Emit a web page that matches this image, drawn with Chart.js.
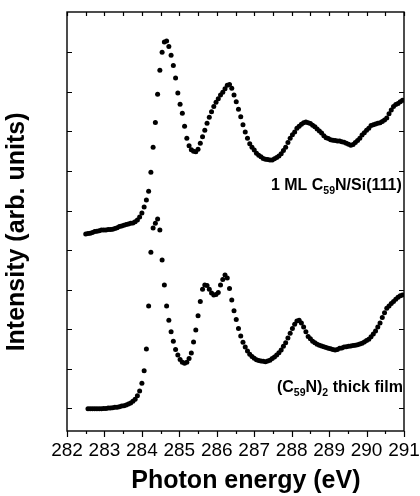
<!DOCTYPE html>
<html>
<head>
<meta charset="utf-8">
<script src="https://cdn.jsdelivr.net/npm/chart.js@4/dist/chart.umd.min.js"></script>
<style>
  html, body { margin: 0; padding: 0; background: #fff; }
  canvas { display: block; }
</style>
</head>
<body>
<canvas id="c" width="420" height="496"></canvas>
<script>
// Photon energy grid (eV)
const energy = [
  282.50,282.56,282.62,282.68,282.74,282.80,282.86,282.92,282.98,283.04,
  283.10,283.16,283.22,283.28,283.34,283.40,283.46,283.52,283.58,283.64,
  283.70,283.76,283.82,283.88,283.94,284.00,284.06,284.12,284.18,284.24,
  284.30,284.36,284.42,284.48,284.54,284.60,284.66,284.72,284.78,284.84,
  284.90,284.96,285.02,285.08,285.14,285.20,285.26,285.32,285.38,285.44,
  285.50,285.56,285.62,285.68,285.74,285.80,285.86,285.92,285.98,286.04,
  286.10,286.16,286.22,286.28,286.34,286.40,286.46,286.52,286.58,286.64,
  286.70,286.76,286.82,286.88,286.94,287.00,287.06,287.12,287.18,287.24,
  287.30,287.36,287.42,287.48,287.54,287.60,287.66,287.72,287.78,287.84,
  287.90,287.96,288.02,288.08,288.14,288.20,288.26,288.32,288.38,288.44,
  288.50,288.56,288.62,288.68,288.74,288.80,288.86,288.92,288.98,289.04,
  289.10,289.16,289.22,289.28,289.34,289.40,289.46,289.52,289.58,289.64,
  289.70,289.76,289.82,289.88,289.94,290.00,290.06,290.12,290.18,290.24,
  290.30,290.36,290.42,290.48,290.54,290.60,290.66,290.72,290.78,290.84,
  290.90,290.96
];

// 1 ML C59N/Si(111) (offset curve, arb. units)
const monolayer = [
  4.41,4.42,4.43,4.45,4.47,4.48,4.49,4.51,4.51,4.51,
  4.52,4.52,4.53,4.55,4.57,4.60,4.61,4.63,4.65,4.66,
  4.68,4.69,4.72,4.76,4.84,4.94,5.09,5.27,5.49,5.97,
  6.60,7.23,7.94,8.55,9.00,9.26,9.29,9.15,8.93,8.67,
  8.35,7.97,7.69,7.46,7.13,6.83,6.64,6.54,6.50,6.49,
  6.55,6.70,6.87,7.03,7.21,7.36,7.50,7.63,7.74,7.83,
  7.92,7.99,8.08,8.17,8.19,8.09,7.92,7.75,7.56,7.37,
  7.17,6.99,6.83,6.69,6.60,6.53,6.45,6.40,6.36,6.32,
  6.30,6.29,6.28,6.28,6.31,6.34,6.38,6.44,6.52,6.60,
  6.72,6.83,6.92,6.99,7.08,7.13,7.18,7.22,7.24,7.22,
  7.20,7.16,7.12,7.06,7.01,6.96,6.89,6.84,6.82,6.79,
  6.78,6.77,6.76,6.76,6.74,6.73,6.70,6.68,6.65,6.67,
  6.72,6.77,6.83,6.91,6.97,7.03,7.08,7.15,7.17,7.19,
  7.21,7.22,7.25,7.29,7.34,7.45,7.54,7.63,7.68,7.71,
  7.75,7.79
];

// (C59N)2 thick film (arb. units)
const thickFilm = [
  null,-0.01,-0.01,-0.01,-0.01,-0.01,-0.01,-0.01,0.00,0.00,
  0.01,0.01,0.02,0.03,0.03,0.04,0.06,0.07,0.09,0.11,
  0.14,0.18,0.23,0.32,0.44,0.64,0.95,1.50,2.59,3.95,
  4.56,4.68,4.79,4.51,3.75,3.12,2.59,2.23,1.94,1.70,
  1.49,1.35,1.24,1.17,1.14,1.17,1.26,1.40,1.68,1.98,
  2.34,2.70,3.01,3.12,3.11,3.01,2.92,2.87,2.88,2.93,
  3.12,3.26,3.37,3.30,3.03,2.74,2.47,2.25,2.02,1.83,
  1.67,1.55,1.45,1.37,1.31,1.27,1.23,1.21,1.20,1.19,
  1.18,1.20,1.22,1.26,1.30,1.35,1.41,1.48,1.57,1.66,
  1.78,1.90,2.02,2.13,2.21,2.23,2.16,2.06,1.94,1.82,
  1.76,1.70,1.66,1.62,1.60,1.58,1.56,1.54,1.52,1.51,
  1.49,1.48,1.49,1.52,1.53,1.55,1.56,1.57,1.58,1.59,
  1.60,1.61,1.63,1.65,1.68,1.72,1.75,1.81,1.88,1.96,
  2.06,2.16,2.30,2.42,2.53,2.59,2.65,2.70,2.76,2.81,
  2.85,2.87
];

const xTickValues = [282, 283, 284, 285, 286, 287, 288, 289, 290, 291];
const yTickValues = [0, 1, 2, 3, 4, 5, 6, 7, 8, 9];

// Curve labels: [segments (text, isSubscript)], anchor (energy, intensity), right-aligned
const labelMonolayer = { parts: [["1 ML C", false], ["59", true], ["N/Si(111)", false]], x: 290.94, y: 5.52 };
const labelThick = { parts: [["(C", false], ["59", true], ["N)", false], ["2", true], [" thick film", false]], x: 290.97, y: 0.42 };

const FONT = "'Liberation Sans', Arial, Helvetica, sans-serif";

function toPoints(xs, ys) {
  const out = [];
  for (let i = 0; i < xs.length; i++) {
    if (ys[i] !== null && ys[i] !== undefined) out.push({ x: xs[i], y: ys[i] });
  }
  return out;
}

const framePlugin = {
  id: 'frame',
  afterDraw(chart) {
    const { ctx, chartArea: a, scales } = chart;
    const xs = scales.x, ys = scales.y;
    ctx.save();
    ctx.strokeStyle = '#000';
    ctx.lineWidth = 1.4;
    ctx.strokeRect(a.left, a.top, a.right - a.left, a.bottom - a.top);
    ctx.lineWidth = 1.2;
    ctx.beginPath();
    for (let v = 282; v <= 291.001; v += 0.5) {
      const px = Math.round(xs.getPixelForValue(v)) + 0.5;
      const major = Math.abs(v - Math.round(v)) < 1e-6;
      ctx.moveTo(px, a.bottom);
      ctx.lineTo(px, a.bottom + (major ? 6 : 3));
      ctx.moveTo(px, a.top);
      ctx.lineTo(px, a.top + 4);
    }
    yTickValues.forEach(v => {
      const py = Math.round(ys.getPixelForValue(v)) + 0.5;
      ctx.moveTo(a.left, py);
      ctx.lineTo(a.left + 5, py);
      ctx.moveTo(a.right, py);
      ctx.lineTo(a.right - 5, py);
    });
    ctx.stroke();

    const drawRich = (lab) => {
      const big = "bold 16px " + FONT, small = "bold 10.5px " + FONT;
      let w = 0;
      lab.parts.forEach(([t, sub]) => { ctx.font = sub ? small : big; w += ctx.measureText(t).width; });
      let x = xs.getPixelForValue(lab.x) - w;
      const y = ys.getPixelForValue(lab.y);
      ctx.fillStyle = '#000';
      ctx.textBaseline = 'alphabetic';
      ctx.textAlign = 'left';
      lab.parts.forEach(([t, sub]) => {
        ctx.font = sub ? small : big;
        ctx.fillText(t, x, sub ? y + 4 : y);
        x += ctx.measureText(t).width;
      });
    };
    drawRich(labelMonolayer);
    drawRich(labelThick);
    ctx.restore();
  }
};

new Chart(document.getElementById('c'), {
  type: 'scatter',
  data: {
    datasets: [
      {
        label: '1 ML C59N/Si(111)',
        data: toPoints(energy, monolayer),
        pointRadius: 2.5,
        pointBackgroundColor: '#000',
        pointBorderWidth: 0,
        showLine: false
      },
      {
        label: '(C59N)2 thick film',
        data: toPoints(energy, thickFilm),
        pointRadius: 2.5,
        pointBackgroundColor: '#000',
        pointBorderWidth: 0,
        showLine: false
      }
    ]
  },
  options: {
    responsive: false,
    animation: false,
    devicePixelRatio: 1,
    layout: { padding: { top: 12, right: 16, left: 0, bottom: 0 } },
    plugins: { legend: { display: false }, tooltip: { enabled: false } },
    scales: {
      x: {
        type: 'linear',
        position: 'bottom',
        min: 282,
        max: 291,
        grid: { display: false, drawTicks: false },
        border: { display: false },
        afterBuildTicks: (s) => { s.ticks = xTickValues.map(v => ({ value: v })); },
        ticks: {
          color: '#000',
          font: { family: FONT, size: 19 },
          padding: 8,
          maxRotation: 0,
          autoSkip: false,
          callback: (v) => String(v)
        },
        title: {
          display: true,
          text: '   Photon energy (eV)',
          color: '#000',
          font: { family: FONT, size: 25, weight: 'bold' },
          padding: { top: 0, bottom: 0 }
        },
        afterFit: (s) => { s.height = 65; s.paddingLeft = 0; s.paddingRight = 0; }
      },
      y: {
        type: 'linear',
        min: -0.57,
        max: 10.02,
        grid: { display: false, drawTicks: false },
        border: { display: false },
        ticks: { display: false },
        title: {
          display: true,
          text: 'Intensity (arb. units)   ',
          color: '#000',
          font: { family: FONT, size: 25, weight: 'bold' },
          padding: { top: 2, bottom: 0 }
        },
        afterFit: (s) => { s.width = 67; s.paddingTop = 0; s.paddingBottom = 0; }
      }
    }
  },
  plugins: [framePlugin]
});
</script>
</body>
</html>
